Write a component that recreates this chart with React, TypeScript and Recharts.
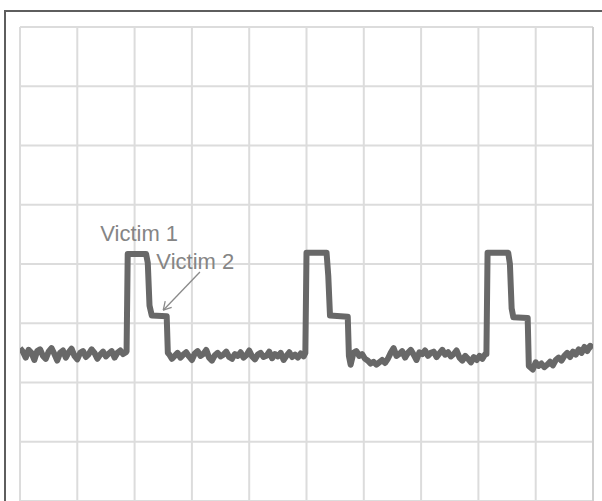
import { LineChart, Line, XAxis, YAxis, CartesianGrid, ReferenceLine, ReferenceDot, Label } from "recharts";

// scope graticule: 10 horizontal divisions, 8 vertical divisions
const timeTicks = [0, 1, 2, 3, 4, 5, 6, 7, 8, 9, 10];
const voltTicks = [-4, -3, -2, -1, 0, 1, 2, 3, 4];

const sampleStep = 0.05;

// quiet line readings (divisions), sampled every 0.05 div
const quiet1Start = 0;
const quiet1 = [
  -1.42, -1.48, -1.58, -1.45, -1.5, -1.62, -1.47, -1.44, -1.55, -1.6, -1.48, -1.42, -1.52, -1.63,
  -1.5, -1.46, -1.58, -1.49, -1.43, -1.55, -1.61, -1.5, -1.47, -1.57, -1.52, -1.44, -1.5, -1.6,
  -1.53, -1.48, -1.56, -1.51, -1.47, -1.58, -1.5, -1.46, -1.52, -1.49,
];
const quiet2Start = 2.6;
const quiet2 = [
  -1.52, -1.6, -1.55, -1.5, -1.58, -1.53, -1.49, -1.56, -1.62, -1.51, -1.47, -1.55, -1.52, -1.45,
  -1.58, -1.63, -1.54, -1.5, -1.56, -1.53, -1.48, -1.57, -1.6, -1.52, -1.55, -1.49, -1.58, -1.54,
  -1.46, -1.56, -1.61, -1.53, -1.5, -1.57, -1.55, -1.48, -1.59, -1.52, -1.56, -1.5, -1.62, -1.55,
  -1.49, -1.57, -1.53, -1.58, -1.51, -1.56,
];
const quiet3Start = 5.77;
const quiet3 = [
  -1.7, -1.5, -1.47, -1.55, -1.52, -1.6, -1.63, -1.68, -1.65, -1.7, -1.66, -1.62, -1.67, -1.6,
  -1.5, -1.42, -1.55, -1.52, -1.47, -1.58, -1.5, -1.45, -1.53, -1.62, -1.49, -1.52, -1.46, -1.55,
  -1.5, -1.48, -1.57, -1.51, -1.45, -1.53, -1.49, -1.56, -1.52, -1.46, -1.58, -1.63, -1.55, -1.6,
  -1.66, -1.57, -1.62, -1.55, -1.6, -1.52,
];
const quiet4Start = 8.95;
const quiet4 = [
  -1.78, -1.66, -1.72, -1.68, -1.74, -1.7, -1.65, -1.71, -1.62, -1.58, -1.63, -1.55, -1.5, -1.57,
  -1.48, -1.53, -1.44, -1.5, -1.4, -1.47, -1.38, -1.42,
];

// aggressor pulses: [time, level]
const pulse1 = [[1.86, -1.47], [1.88, 0.17], [2.2, 0.17], [2.23, 0.02], [2.26, -0.7], [2.3, -0.87], [2.56, -0.88], [2.58, -1.5]];
const pulse2 = [[4.98, -1.5], [5.0, 0.19], [5.35, 0.19], [5.38, -0.2], [5.41, -0.87], [5.72, -0.89], [5.74, -1.55]];
const pulse3 = [[8.14, -1.52], [8.16, 0.19], [8.52, 0.19], [8.55, 0.0], [8.58, -0.75], [8.61, -0.9], [8.86, -0.91], [8.88, -1.72]];

const quiet = (start: number, vals: number[]) =>
  vals.map((v, i) => ({ t: +(start + i * sampleStep).toFixed(3), v }));
const pts = (arr: number[][]) => arr.map(([t, v]) => ({ t, v }));

const trace = [
  ...quiet(quiet1Start, quiet1),
  ...pts(pulse1),
  ...quiet(quiet2Start, quiet2),
  ...pts(pulse2),
  ...quiet(quiet3Start, quiet3),
  ...pts(pulse3),
  ...quiet(quiet4Start, quiet4),
];

const gray = "#686868";
const labelStyle = { fill: "#858585", fontSize: 22, fontFamily: "Liberation Sans, Arial, sans-serif" };

export default function App() {
  return (
    <div style={{ position: "absolute", left: 0, top: 0, width: 602, height: 501, overflow: "hidden", background: "#fff" }}>
      <div
        style={{
          position: "absolute",
          left: 4,
          top: 10,
          width: 700,
          height: 600,
          borderLeft: "2px solid #5e5e5e",
          borderTop: "2px solid #5e5e5e",
        }}
      />
      <LineChart
        width={602}
        height={501}
        data={trace}
        margin={{ top: 27, right: 9, bottom: 0, left: 20 }}
        style={{ position: "absolute", left: 0, top: 0 }}
      >
        <CartesianGrid stroke="#dcdcdc" strokeWidth={2} />
        <XAxis dataKey="t" type="number" domain={[0, 10]} ticks={timeTicks} allowDataOverflow hide />
        <YAxis type="number" domain={[-4, 4]} ticks={voltTicks} allowDataOverflow hide />
        <ReferenceLine x={10} stroke="#cfcfcf" strokeWidth={2} />
        <Line
          type="linear"
          dataKey="v"
          stroke={gray}
          strokeWidth={6}
          strokeLinejoin="round"
          dot={false}
          isAnimationActive={false}
        />
        <ReferenceLine segment={[{ x: 3.14, y: -0.135 }, { x: 2.5, y: -0.78 }]} stroke="#8a8a8a" strokeWidth={1.3} />
        <ReferenceLine segment={[{ x: 2.5, y: -0.78 }, { x: 2.647, y: -0.734 }]} stroke="#8a8a8a" strokeWidth={1.3} />
        <ReferenceLine segment={[{ x: 2.5, y: -0.78 }, { x: 2.534, y: -0.628 }]} stroke="#8a8a8a" strokeWidth={1.3} />
        <ReferenceDot x={1.4} y={0.523} r={0} fill="none" stroke="none">
          <Label value="Victim 1" position="right" offset={0} style={labelStyle} />
        </ReferenceDot>
        <ReferenceDot x={2.38} y={0.05} r={0} fill="none" stroke="none">
          <Label value="Victim 2" position="right" offset={0} style={labelStyle} />
        </ReferenceDot>
      </LineChart>
    </div>
  );
}
